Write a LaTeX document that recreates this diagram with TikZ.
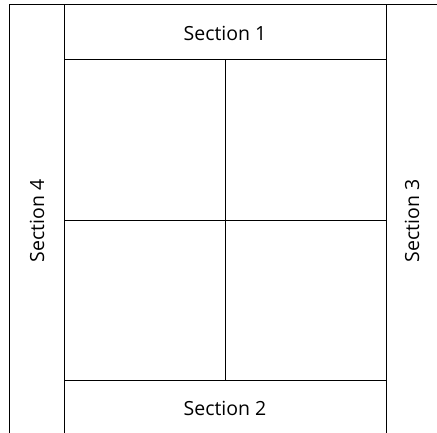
\documentclass[tikz,border=0pt]{standalone}
\usepackage{fontspec}
\setmainfont{Open Sans}

\begin{document}
\begin{tikzpicture}[x=1pt, y=1pt, line width=1pt]
	\useasboundingbox (0,0) rectangle (437,433);
	\tikzset{sectext/.style={font=\fontsize{19.5}{22}\selectfont, inner sep=0pt}}

	\node at (225,400) [sectext] (s1) {Section 1};
	\node at (225,25) [sectext] (s2) {Section 2};
	\node at (412,212) [sectext, rotate=90, transform shape] (s3) {Section 3};
	\node at (37,212) [sectext, rotate=90, transform shape] (s4) {Section 4};

	\draw (9,428) -- (437,428);
	\draw (9,428) -- (9,0);
	\draw (64,428) -- (64,0);
	\draw (386,428) -- (386,0);
	\draw (64,373) -- (386,373);
	\draw (64,212) -- (386,212);
	\draw (64,52) -- (386,52);
	\draw (225,373) -- (225,52);
\end{tikzpicture}
\end{document}
